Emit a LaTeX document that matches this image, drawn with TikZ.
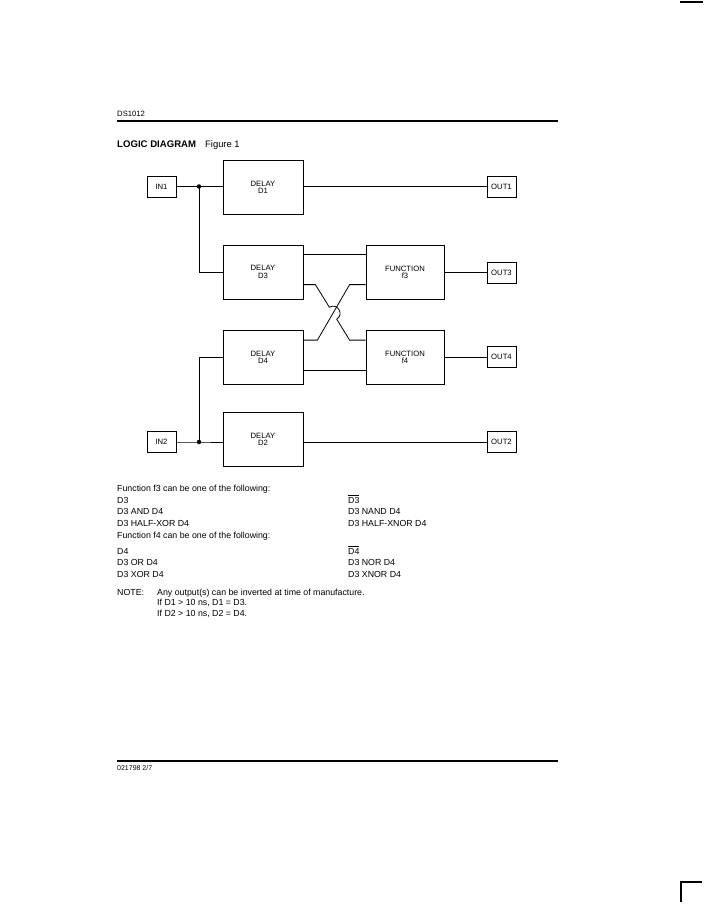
\documentclass[tikz,border=0pt]{standalone}
\usepackage{fontspec}
\setmainfont{Liberation Sans}
\usetikzlibrary{calc}
\begin{document}
\begin{tikzpicture}[x=1pt,y=-1pt,
 blk/.style={draw,line width=0.8pt,minimum width=80pt,minimum height=54pt,inner sep=0pt,align=center,font=\fontsize{7.7}{7.3}\selectfont},
 fblk/.style={blk,minimum width=78pt},
 iob/.style={draw,line width=0.8pt,minimum width=29pt,minimum height=21pt,inner sep=0pt,font=\fontsize{7.7}{9}\selectfont},
 wire/.style={line width=0.8pt},
 junc/.style={circle,fill,inner sep=0pt,minimum size=4.5pt},
 txt/.style={anchor=base west,inner sep=0pt,font=\fontsize{8.8}{10}\selectfont},
 rule/.style={line width=1.1pt},
]
\path[use as bounding box] (0,0) rectangle (722,922);

% corner marks
\draw[rule] (680,2) -- (703,2);
\draw[rule] (681,902) -- (681,882) -- (702,882);

% header
\node[anchor=base west,inner sep=0pt,font=\fontsize{7.7}{9}\selectfont] (hdr) at (117,116) {DS1012};
\draw[rule] (117,121) -- (558,121);
\node[anchor=base west,inner sep=0pt,font=\fontsize{9.6}{11}\selectfont\bfseries] (title) at (117,147) {LOGIC DIAGRAM};
\node[anchor=base west,inner sep=0pt,font=\fontsize{9.4}{11}\selectfont] (fig) at (205,147) {Figure 1};

% blocks
\node[iob] (IN1) at (161.5,186.5) {IN1};
\node[blk] (D1) at (263,187) {DELAY\\D1};
\node[iob] (OUT1) at (501.5,186.5) {OUT1};
\node[blk] (D3) at (263,272) {DELAY\\D3};
\node[fblk] (f3) at (405,272) {FUNCTION\\f3};
\node[iob] (OUT3) at (501.5,272.5) {OUT3};
\node[blk] (D4) at (263,357.5) {DELAY\\D4};
\node[fblk] (f4) at (405,357.5) {FUNCTION\\f4};
\node[iob] (OUT4) at (501.5,357) {OUT4};
\node[blk] (D2) at (263,439) {DELAY\\D2};
\node[iob] (IN2) at (161.5,442) {IN2};
\node[iob] (OUT2) at (501.5,442) {OUT2};

% wiring
\coordinate (j1) at (199,186.5);
\coordinate (j2) at (199,442);
\draw[wire] (IN1.east) -- (j1) -- (j1 -| D1.west);
\draw[wire] (j1) |- (D3.west);
\draw[wire] (D1.east |- IN1) -- (OUT1.west);
\draw[wire] (IN2.east) -- (j2) -- (j2 -| D2.west);
\draw[wire] (j2) |- (D4.west);
\draw[wire] (D2.east |- IN2) -- (OUT2.west);
\draw[wire] (f3.east |- OUT3) -- (OUT3.west);
\draw[wire] (f4.east |- OUT4) -- (OUT4.west);

\coordinate (d3a) at ($(D3.north east)+(0,10)$);
\coordinate (d3b) at ($(D3.north east)+(0,40)$);
\coordinate (d4a) at ($(D4.north east)+(0,10)$);
\coordinate (d4b) at ($(D4.north east)+(0,40)$);
\draw[wire] (d3a) -- (d3a -| f3.west);
\draw[wire] (d4b) -- (d4b -| f4.west);

\coordinate (a1) at ($(d3b)+(12,0)$);
\coordinate (a2) at ($(d4a -| f4.west)+(-16,0)$);
\coordinate (b1) at ($(d4a)+(14,0)$);
\coordinate (b2) at ($(d3b -| f3.west)+(-16,0)$);
\coordinate (X) at (intersection of a1--a2 and b1--b2);
\coordinate (h1) at ($(X)!7pt!(a1)$);
\coordinate (h2) at ($(X)!7pt!(a2)$);
\draw[wire] (d4a) -- (b1) -- (b2) -- (d3b -| f3.west);
\draw[wire] (d3b) -- (a1) -- (h1)
  .. controls ($(h1)!9.3pt!90:(X)$) and ($(h2)!9.3pt!-90:(X)$) .. (h2)
  -- (a2) -- (a2 -| f4.west);

\node[junc] (dot1) at (j1) {};
\node[junc] (dot2) at (j2) {};

% text block
\node[txt] (t1) at (117,491) {Function f3 can be one of the following:};
\node[txt] (t2) at (117,503) {D3};
\node[txt] (t3) at (117,514.5) {D3 AND D4};
\node[txt] (t4) at (117,526) {D3 HALF-XOR D4};
\node[txt] (r2) at (348,503) {$\overline{\hbox{D3}}$};
\node[txt] (r3) at (348,514.5) {D3 NAND D4};
\node[txt] (r4) at (348,526) {D3 HALF-XNOR D4};
\node[txt] (t5) at (117,538.5) {Function f4 can be one of the following:};
\node[txt] (t6) at (117,554) {D4};
\node[txt] (t7) at (117,565.5) {D3 OR D4};
\node[txt] (t8) at (117,577) {D3 XOR D4};
\node[txt] (r6) at (348,554) {$\overline{\hbox{D4}}$};
\node[txt] (r7) at (348,565.5) {D3 NOR D4};
\node[txt] (r8) at (348,577) {D3 XNOR D4};
\node[txt] (n1) at (117,595) {NOTE:};
\node[txt] (n2) at (157,595) {Any output(s) can be inverted at time of manufacture.};
\node[txt] (n3) at (157,605.5) {If D1 > 10 ns, D1 = D3.};
\node[txt] (n4) at (157,616) {If D2 > 10 ns, D2 = D4.};

% footer
\draw[rule] (117,761) -- (558,761);
\node[anchor=base west,inner sep=0pt,font=\fontsize{7}{8}\selectfont] (ftr) at (117,770.5) {021798 2/7};
\end{tikzpicture}
\end{document}
